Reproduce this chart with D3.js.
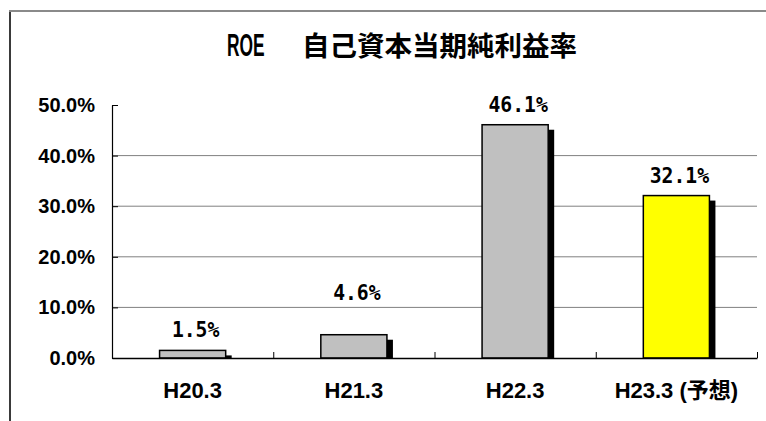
<!DOCTYPE html>
<html lang="ja">
<head>
<meta charset="UTF-8">
<title>ROE</title>
<script src="https://cdn.jsdelivr.net/npm/d3@7"></script>
<style>
    body{ margin:0; background:#fff; }
    svg{ display:block; }
    .tick-label{ font-family:"Liberation Sans", Arial, sans-serif; font-weight:bold; font-size:20px; fill:#000; }
    .cat-label{ font-family:"Liberation Sans", "Noto Sans CJK JP", sans-serif; font-weight:bold; font-size:22px; fill:#000; }
    .val-label{ font-family:"DejaVu Sans Mono", monospace; font-weight:bold; font-size:21px; fill:#000; }
    .title{ font-family:"Noto Sans CJK JP", sans-serif; font-weight:bold; font-size:27.5px; fill:#000; }
</style>
</head>
<body>
<svg id="chart" width="766" height="421"></svg>
<script>
    // data
    let categories = ["H20.3", "H21.3", "H22.3", "H23.3 (予想)"]
    let roe = [1.5, 4.6, 46.1, 32.1]
    let barColors = ["#c0c0c0", "#c0c0c0", "#c0c0c0", "#ffff00"]
    let yTicks = [0, 10, 20, 30, 40, 50]

    // label lift above the bar (the 4.6% label sits higher in the original)
    let labelLift = [13, 35, 13, 13]

    let svg = d3.select("#chart")

    // outer frame (only left/top visible)
    svg.append("line").attr("x1", 10).attr("x2", 10).attr("y1", 10).attr("y2", 421)
        .attr("stroke", "#3a3a3a").attr("stroke-width", 2)
    svg.append("line").attr("x1", 9).attr("x2", 766).attr("y1", 11).attr("y2", 11)
        .attr("stroke", "#8a8a8a").attr("stroke-width", 2)

    // title
    svg.append("text").attr("class", "title")
        .attr("transform", "translate(227,56) scale(0.56,1)")
        .style("font-family", "'Liberation Sans', sans-serif").style("font-size", "31px")
        .text("ROE")
    svg.append("text").attr("class", "title")
        .attr("x", 302).attr("y", 56)
        .text("自己資本当期純利益率")

    let pLeft = 112, pRight = 757, pTop = 105, pBottom = 358

    let x = d3.scaleBand().domain(categories).range([pLeft, pRight]).padding(0)
    let y = d3.scaleLinear().domain([0, 50]).range([pBottom, pTop])
    let barW = x.bandwidth() * 0.41

    // gridlines
    svg.append("g").selectAll("line")
        .data(yTicks.filter(d => d > 0 && d < 50))
        .join("line")
        .attr("x1", pLeft).attr("x2", pRight)
        .attr("y1", d => y(d)).attr("y2", d => y(d))
        .attr("stroke", "#808080").attr("stroke-width", 1)

    // y axis with inside ticks
    let yAxis = svg.append("g")
        .attr("transform", `translate(${pLeft},0)`)
        .call(d3.axisRight(y).tickValues(yTicks).tickSize(6).tickFormat("").tickSizeOuter(0))
    yAxis.select(".domain").attr("stroke", "#000").attr("stroke-width", 1.2)
    yAxis.selectAll(".tick line").attr("stroke", "#000")

    svg.append("g").selectAll("text")
        .data(yTicks)
        .join("text")
        .attr("class", "tick-label")
        .attr("x", 95).attr("y", d => y(d) + 7)
        .attr("text-anchor", "end")
        .text(d => d.toFixed(1) + "%")

    // bars: shadow then bar
    let bars = svg.append("g").selectAll("g")
        .data(roe)
        .join("g")
    bars.append("rect")
        .attr("x", (d, i) => x(categories[i]) + (x.bandwidth() - barW) / 2 + 6)
        .attr("y", d => y(d) + 5)
        .attr("width", barW)
        .attr("height", d => Math.max(0, y(0) - y(d) - 5))
        .attr("fill", "#000")
    bars.append("rect")
        .attr("x", (d, i) => x(categories[i]) + (x.bandwidth() - barW) / 2)
        .attr("y", d => y(d))
        .attr("width", barW)
        .attr("height", d => y(0) - y(d))
        .attr("fill", (d, i) => barColors[i])
        .attr("stroke", "#000").attr("stroke-width", 1.5)

    // x axis with category ticks pointing up
    let xAxis = svg.append("g")
        .attr("transform", `translate(0,${pBottom})`)
        .call(d3.axisTop(d3.scaleLinear().domain([0, 4]).range([pLeft, pRight]))
            .ticks(4).tickSize(6).tickFormat("").tickSizeOuter(0))
    xAxis.select(".domain").attr("stroke", "#000").attr("stroke-width", 1.5)
    xAxis.selectAll(".tick line").attr("stroke", "#000")

    // category labels
    svg.append("g").selectAll("text")
        .data(categories)
        .join("text")
        .attr("class", "cat-label")
        .attr("x", d => x(d) + x.bandwidth() / 2)
        .attr("y", 398)
        .attr("text-anchor", "middle")
        .text(d => d)

    // value labels (narrowed monospace, like the original)
    svg.append("g").selectAll("text")
        .data(roe)
        .join("text")
        .attr("class", "val-label")
        .attr("transform", (d, i) =>
            `translate(${x(categories[i]) + x.bandwidth() / 2 + 3},${y(d) - labelLift[i]}) scale(0.94,1)`)
        .attr("text-anchor", "middle")
        .text(d => d.toFixed(1) + "%")
</script>
</body>
</html>
